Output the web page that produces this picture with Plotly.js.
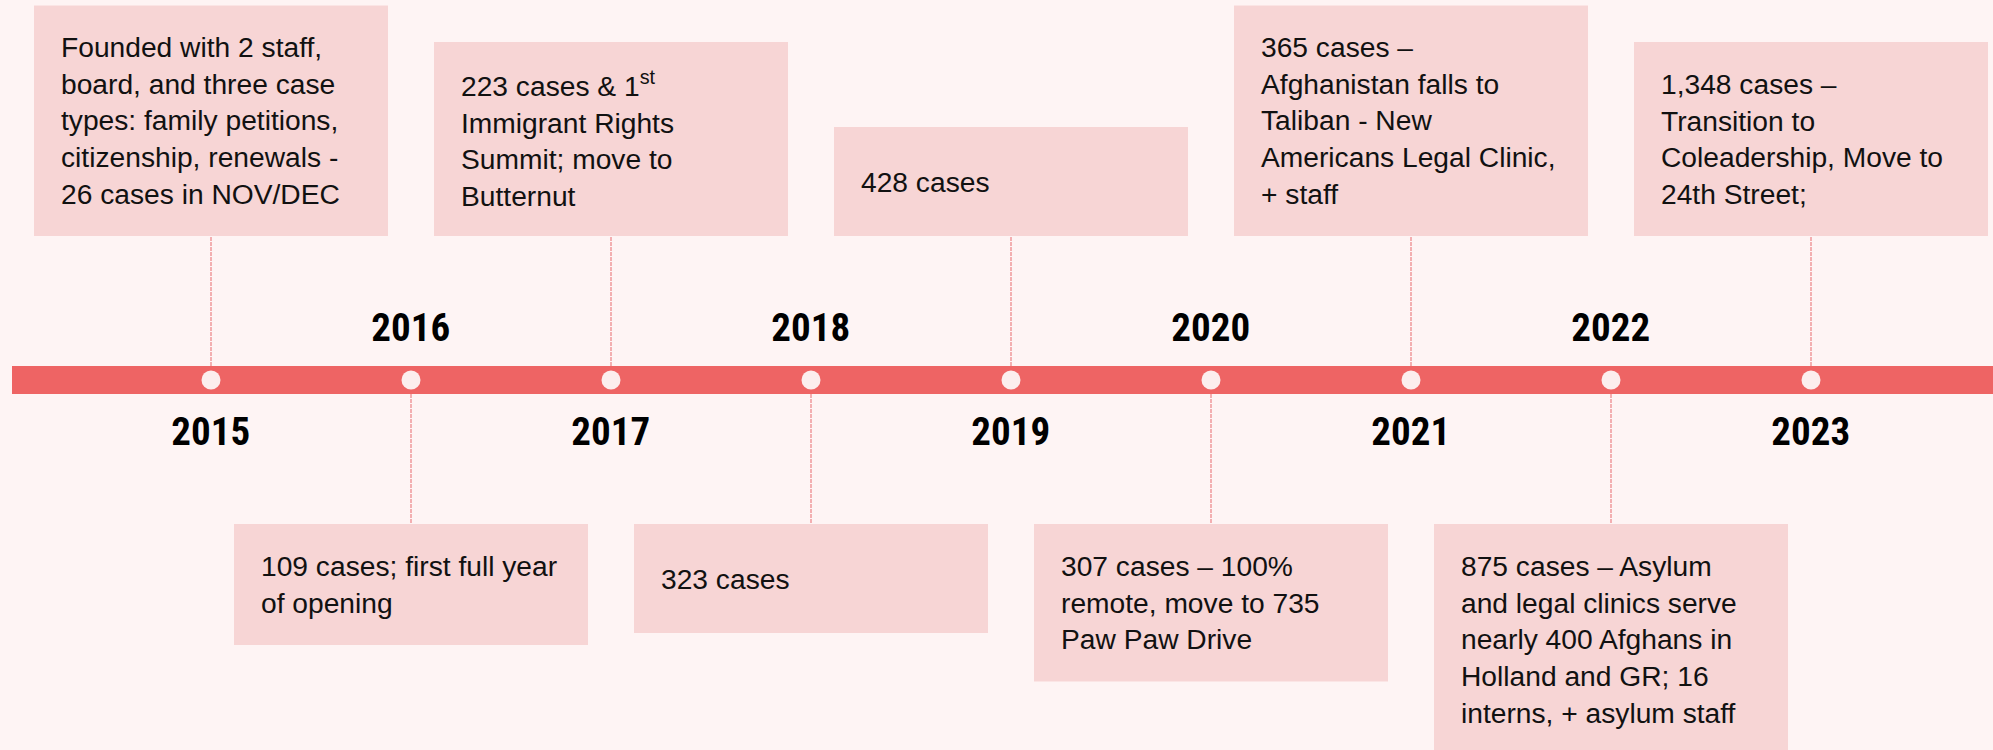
<!DOCTYPE html>
<html>
<head>
<meta charset="utf-8">
<script src="https://cdn.plot.ly/plotly-3.0.1.min.js"></script>
<style>
  html, body { margin: 0; padding: 0; background: #FEF4F4; }
  #chart { width: 1993px; height: 750px; }
</style>
<style id="yearstretch"></style>
</head>
<body>
<div id="chart"></div>
<script>
// ---- data ----
const years = [2015, 2016, 2017, 2018, 2019, 2020, 2021, 2022, 2023];
const yearLabels = ["2015", "2016", "2017", "2018", "2019", "2020", "2021", "2022", "2023"];
const eventTexts = [
  "Founded with 2 staff,<br>board, and three case<br>types: family petitions,<br>citizenship, renewals -<br>26 cases in NOV/DEC",
  "109 cases; first full year<br>of opening",
  "223 cases &amp; 1<sup>st</sup><br>Immigrant Rights<br>Summit; move to<br>Butternut",
  "323 cases",
  "428 cases",
  "307 cases \u2013 100%<br>remote, move to 735<br>Paw Paw Drive",
  "365 cases \u2013<br>Afghanistan falls to<br>Taliban - New<br>Americans Legal Clinic,<br>+ staff",
  "875 cases \u2013 Asylum<br>and legal clinics serve<br>nearly 400 Afghans in<br>Holland and GR; 16<br>interns, + asylum staff",
  "1,348 cases \u2013<br>Transition to<br>Coleadership, Move to<br>24th Street;"
];
const eventSide = ["top", "bottom", "top", "bottom", "top", "bottom", "top", "bottom", "top"];

// ---- style / layout constants ----
const W = 1993, H = 750;
const pxPerYear = 200;
const firstX = 211;              // pixel of first year
const barY = 380;                // pixel of timeline centre
const xMin = years[0] - firstX / pxPerYear;
const xMax = years[0] + (W - firstX) / pxPerYear;
const yMax = barY, yMin = barY - H;   // y in px units, 0 at bar centre (up positive)

const BG = "#FEF4F4", BAR = "#EE6464", BOX = "#F7D5D5", DOT = "#FCEEEE", LINE = "#E86A6E";
const barHalf = 14, boxGap = 144, boxHalfW = 177 / pxPerYear, padL = 25 / pxPerYear;
const lineH = 36.5;
const textFont = {family: "'Liberation Sans', Arial, sans-serif", size: 28.2, color: "#111111"};
const yearFont = {family: "Roboto, 'Liberation Sans', sans-serif", size: 39, color: "#000000", weight: 700};

const shapes = [];
const annotations = [];

// timeline bar
shapes.push({type: "rect", xref: "paper", yref: "y", x0: 12 / W, x1: 1, y0: -barHalf, y1: barHalf,
  fillcolor: BAR, line: {width: 0}, layer: "below"});

// year labels first (annotation indices 0..n-1, condensed via CSS)
years.forEach((yr, i) => {
  const up = eventSide[i] === "top";
  annotations.push({x: yr, y: up ? -52 : 52, xref: "x", yref: "y", text: yearLabels[i],
    showarrow: false, xanchor: "center", yanchor: "middle", font: yearFont});
});

years.forEach((yr, i) => {
  const nLines = eventTexts[i].split("<br>").length;
  const h = Math.max(109, 48 + lineH * nLines);
  const up = eventSide[i] === "top";
  const y0 = up ? boxGap : -boxGap;
  const y1 = up ? boxGap + h : -boxGap - h;
  shapes.push({type: "rect", xref: "x", yref: "y", x0: yr - boxHalfW, x1: yr + boxHalfW, y0: y0, y1: y1,
    fillcolor: BOX, line: {width: 0}, layer: "below"});
  shapes.push({type: "line", xref: "x", yref: "y", x0: yr, x1: yr,
    y0: up ? barHalf : -barHalf, y1: y0,
    line: {color: LINE, width: 1, dash: "4px,1px"}, layer: "below"});
  annotations.push({x: yr - boxHalfW + padL, y: (y0 + y1) / 2, xref: "x", yref: "y",
    text: eventTexts[i], showarrow: false, xanchor: "left", yanchor: "middle", align: "left",
    font: textFont});
});

// condensed width for the year labels
document.getElementById("yearstretch").textContent =
  years.map((_, i) => 'g.annotation[data-index="' + i + '"] text').join(",\n") +
  " { font-stretch: 75%; }";

const dots = {
  type: "scatter", mode: "markers", x: years, y: years.map(() => 0),
  marker: {size: 19, color: DOT, line: {width: 0}}, hoverinfo: "skip", showlegend: false
};

const layout = {
  width: W, height: H, margin: {l: 0, r: 0, t: 0, b: 0, pad: 0},
  paper_bgcolor: BG, plot_bgcolor: BG, showlegend: false,
  xaxis: {range: [xMin, xMax], visible: false, fixedrange: true},
  yaxis: {range: [yMin, yMax], visible: false, fixedrange: true},
  shapes: shapes, annotations: annotations
};

Plotly.newPlot("chart", [dots], layout, {staticPlot: true, displayModeBar: false});
</script>
</body>
</html>
